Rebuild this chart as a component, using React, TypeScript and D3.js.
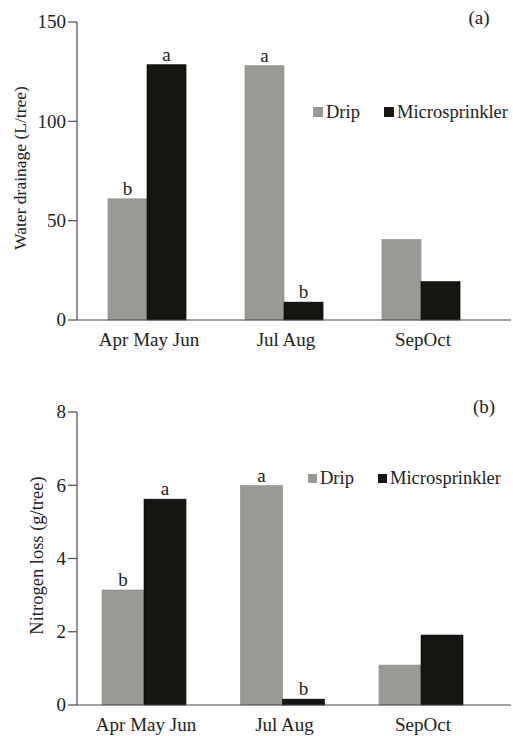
import React from "react";
import * as d3 from "d3";

const categories = ["Apr May Jun", "Jul Aug", "SepOct"];
const series = ["Drip", "Microsprinkler"];
const colors = ["#9b9994", "#151511"];

const drainageDrip = [61, 128, 40.5];
const drainageMicro = [128.5, 9, 19.3];
const drainageLetters = [["b", "a"], ["a", "b"], ["", ""]];
const drainageTicks = [0, 50, 100, 150];

const nitrogenDrip = [3.14, 5.99, 1.09];
const nitrogenMicro = [5.62, 0.16, 1.91];
const nitrogenLetters = [["b", "a"], ["a", "b"], ["", ""]];
const nitrogenTicks = [0, 2, 4, 6, 8];

const FONT = "'Liberation Serif', 'Times New Roman', serif";
const AXIS = "#4a4a4a";

type PanelProps = {
  drip: number[];
  micro: number[];
  letters: string[][];
  ticks: number[];
  yMax: number;
  yTop: number;
  yBottom: number;
  xRange: [number, number];
  padInner: number;
  title: string;
  titleSize: number;
  titleX: number;
  panelLabel: string;
  panelLabelPos: [number, number];
  legendX: number[];
  legendY: number;
  legendSquare: number;
};

function Panel(p: PanelProps) {
  const x0 = d3
    .scaleBand<string>()
    .domain(categories)
    .range(p.xRange)
    .paddingInner(p.padInner)
    .paddingOuter(p.padInner / 2);
  const x1 = d3.scaleBand<string>().domain(series).range([0, x0.bandwidth()]);
  const y = d3.scaleLinear().domain([0, p.yMax]).range([p.yBottom, p.yTop]);
  const axisX = 77;
  const values = [p.drip, p.micro];

  return (
    <g>
      {categories.map((c, i) => (
        <g key={c} transform={`translate(${x0(c)},0)`}>
          {series.map((s, j) => {
            const v = values[j][i];
            const bx = x1(s) as number;
            return (
              <g key={s}>
                <rect
                  x={bx}
                  y={y(v)}
                  width={x1.bandwidth()}
                  height={y(0) - y(v)}
                  fill={colors[j]}
                  stroke={j === 1 ? "#000" : "#8f8d88"}
                  strokeWidth={0.6}
                />
                {p.letters[i][j] && (
                  <text
                    x={bx + x1.bandwidth() / 2}
                    y={y(v) - 4}
                    textAnchor="middle"
                    fontSize={19}
                    fontFamily={FONT}
                    fill="#222"
                  >
                    {p.letters[i][j]}
                  </text>
                )}
              </g>
            );
          })}
          <text
            x={x0.bandwidth() / 2 + 2}
            y={p.yBottom + 26}
            textAnchor="middle"
            fontSize={19}
            fontFamily={FONT}
            fill="#222"
          >
            {c}
          </text>
        </g>
      ))}
      {/* axes */}
      <line x1={axisX} x2={axisX} y1={p.yTop} y2={p.yBottom} stroke={AXIS} strokeWidth={1.2} />
      <line x1={axisX} x2={511} y1={p.yBottom} y2={p.yBottom} stroke={AXIS} strokeWidth={1.2} />
      {p.ticks.map((t) => (
        <g key={t} transform={`translate(0,${y(t)})`}>
          <line x1={axisX - 9} x2={axisX} stroke={AXIS} strokeWidth={1.2} />
          <text
            x={axisX - 11}
            dy="0.34em"
            textAnchor="end"
            fontSize={19}
            fontFamily={FONT}
            fill="#222"
          >
            {t}
          </text>
        </g>
      ))}
      <text
        transform={`translate(${p.titleX},${(p.yTop + p.yBottom) / 2 - 3}) rotate(-90)`}
        textAnchor="middle"
        dy="0.34em"
        fontSize={p.titleSize}
        fontFamily={FONT}
        fill="#222"
      >
        {p.title}
      </text>
      <text
        x={p.panelLabelPos[0]}
        y={p.panelLabelPos[1]}
        textAnchor="middle"
        fontSize={19}
        fontFamily={FONT}
        fill="#222"
      >
        {p.panelLabel}
      </text>
      {series.map((s, j) => (
        <g key={s}>
          <rect
            x={p.legendX[j]}
            y={p.legendY - p.legendSquare - 1}
            width={p.legendSquare}
            height={p.legendSquare}
            fill={colors[j]}
          />
          <text
            x={p.legendX[j] + p.legendSquare + 3}
            y={p.legendY}
            fontSize={18.5}
            fontFamily={FONT}
            fill="#222"
          >
            {s}
          </text>
        </g>
      ))}
    </g>
  );
}

export default function App() {
  return (
    <svg
      width={513}
      height={736}
      style={{ position: "absolute", left: 0, top: 0, background: "#fff" }}
    >
      <rect width={513} height={736} fill="#fff" />
      <Panel
        drip={drainageDrip}
        micro={drainageMicro}
        letters={drainageLetters}
        ticks={drainageTicks}
        yMax={150}
        yTop={22}
        yBottom={320}
        xRange={[78.5, 489.5]}
        padInner={0.43}
        title="Water drainage (L/tree)"
        titleSize={17.5}
        titleX={20}
        panelLabel="(a)"
        panelLabelPos={[479, 24]}
        legendX={[313, 384]}
        legendY={118}
        legendSquare={10}
      />
      <Panel
        drip={nitrogenDrip}
        micro={nitrogenMicro}
        letters={nitrogenLetters}
        ticks={nitrogenTicks}
        yMax={8}
        yTop={412}
        yBottom={705}
        xRange={[74.75, 490.25]}
        padInner={0.3935}
        title="Nitrogen loss (g/tree)"
        titleSize={18.5}
        titleX={37}
        panelLabel="(b)"
        panelLabelPos={[484, 413]}
        legendX={[308, 378]}
        legendY={484}
        legendSquare={9}
      />
    </svg>
  );
}
